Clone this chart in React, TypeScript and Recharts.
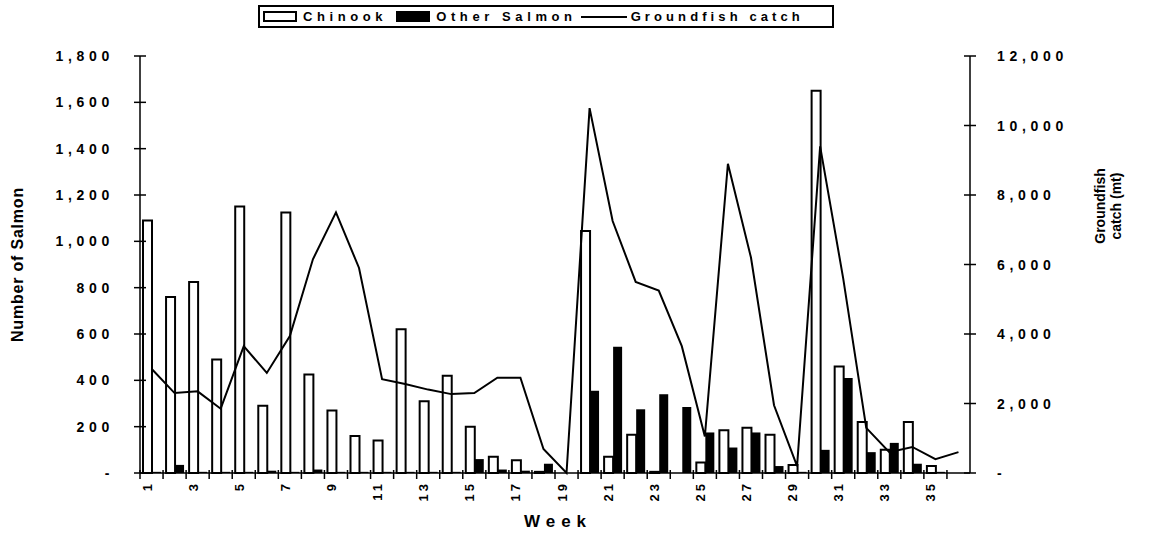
import React from 'react';
import { ComposedChart, Bar, Line, XAxis, YAxis } from 'recharts';

// weekly bycatch (number of fish) and groundfish catch (mt)
const WEEKS = [1, 2, 3, 4, 5, 6, 7, 8, 9, 10, 11, 12, 13, 14, 15, 16, 17, 18, 19, 20, 21, 22, 23, 24, 25, 26, 27, 28, 29, 30, 31, 32, 33, 34, 35, 36];
const CHINOOK = [1090, 760, 825, 490, 1150, 290, 1125, 425, 270, 160, 140, 620, 310, 420, 200, 70, 55, 5, 0, 1045, 70, 165, 5, 0, 45, 185, 195, 165, 35, 1650, 460, 220, 100, 220, 30, 0];
const OTHER_SALMON = [5, 35, 5, 5, 5, 10, 5, 15, 5, 5, 5, 5, 5, 5, 60, 15, 10, 40, 0, 355, 545, 275, 340, 285, 175, 110, 175, 30, 5, 100, 410, 90, 130, 40, 5, 0];
const GROUNDFISH = [3000, 2300, 2350, 1850, 3650, 2880, 3940, 6150, 7500, 5900, 2700, 2560, 2400, 2270, 2300, 2740, 2740, 690, 0, 10500, 7250, 5500, 5250, 3650, 1050, 8900, 6200, 1950, 200, 9400, 5600, 1300, 600, 750, 400, 600];

const SALMON_TICKS = [0, 200, 400, 600, 800, 1000, 1200, 1400, 1600, 1800];
const CATCH_TICKS = [0, 2000, 4000, 6000, 8000, 10000, 12000];

const data = WEEKS.map((week, i) => ({
  week,
  chinook: CHINOOK[i],
  other: OTHER_SALMON[i],
  groundfish: GROUNDFISH[i],
}));

const W = 1156;
const H = 535;
const LEFT_W = 140;
const RIGHT_W = 186;
const HALF_BAND = (W - LEFT_W - RIGHT_W) / WEEKS.length / 2;
const FONT = '"Liberation Sans", Arial, Helvetica, sans-serif';

const fmt = (v: number) => (v === 0 ? '-' : v.toLocaleString('en-US'));

function SalmonTick({ x, y, payload }: any) {
  return (
    <g>
      <line x1={x} x2={x + 12} y1={y} y2={y} stroke="#000" strokeWidth={1.5} />
      <text x={x - 20} y={y} dy={5} textAnchor="end" fontFamily={FONT} fontWeight="bold" fontSize={14} letterSpacing={4.7} fill="#000">
        {fmt(payload.value)}
      </text>
    </g>
  );
}

function CatchTick({ x, y, payload }: any) {
  return (
    <g>
      <line x1={x - 12} x2={x} y1={y} y2={y} stroke="#000" strokeWidth={1.5} />
      <text x={x + 21} y={y} dy={5} textAnchor="start" fontFamily={FONT} fontWeight="bold" fontSize={14} letterSpacing={4.7} fill="#000">
        {fmt(payload.value)}
      </text>
    </g>
  );
}

function WeekTick({ x, y, payload }: any) {
  const axisY = y - 6;
  const edge = x - HALF_BAND;
  return (
    <g>
      <line x1={edge} x2={edge} y1={axisY - 3} y2={axisY + 6} stroke="#000" strokeWidth={1.5} />
      {payload.value % 2 === 1 && (
        <text
          x={x}
          y={axisY + 8}
          transform={`rotate(-90 ${x} ${axisY + 8})`}
          textAnchor="end"
          fontFamily={FONT}
          fontWeight="bold"
          fontSize={13}
          letterSpacing={3}
          fill="#000"
        >
          {payload.value}
        </text>
      )}
    </g>
  );
}

const leftTitle = (props: any) => {
  const vb = props.viewBox;
  const cx = vb.x + 23;
  const cy = vb.y + vb.height / 2;
  return (
    <text x={cx} y={cy} transform={`rotate(-90 ${cx} ${cy})`} textAnchor="middle" fontFamily={FONT} fontWeight="bold" fontSize={16} letterSpacing={0.8} fill="#000">
      Number of Salmon
    </text>
  );
};

const rightTitle = (props: any) => {
  const vb = props.viewBox;
  const cy = vb.y + 150;
  const x1 = vb.x + 135;
  const x2 = vb.x + 151;
  return (
    <g>
      <text x={x1} y={cy} transform={`rotate(-90 ${x1} ${cy})`} textAnchor="middle" fontFamily={FONT} fontWeight="bold" fontSize={14} fill="#000">
        Groundfish
      </text>
      <text x={x2} y={cy} transform={`rotate(-90 ${x2} ${cy})`} textAnchor="middle" fontFamily={FONT} fontWeight="bold" fontSize={14} fill="#000">
        catch (mt)
      </text>
    </g>
  );
};

const weekTitle = (props: any) => {
  const vb = props.viewBox;
  return (
    <text x={vb.x + vb.width / 2 + 3} y={vb.y + 54} textAnchor="middle" fontFamily={FONT} fontWeight="bold" fontSize={17} letterSpacing={6} fill="#000">
      Week
    </text>
  );
};

const legendText: React.CSSProperties = {
  fontFamily: FONT,
  fontWeight: 'bold',
  fontSize: 13,
  letterSpacing: 4.6,
  color: '#000',
  whiteSpace: 'nowrap',
};

function LegendBox() {
  return (
    <div
      style={{
        position: 'absolute',
        left: 258,
        top: 5,
        width: 576,
        height: 23,
        boxSizing: 'border-box',
        border: '2px solid #000',
        background: '#fff',
        display: 'flex',
        alignItems: 'center',
        paddingLeft: 3,
      }}
    >
      <span style={{ width: 34, height: 11, border: '2px solid #000', boxSizing: 'border-box', background: '#fff' }} />
      <span style={{ ...legendText, marginLeft: 6 }}>Chinook</span>
      <span style={{ width: 34, height: 11, background: '#000', marginLeft: 9 }} />
      <span style={{ ...legendText, marginLeft: 6 }}>Other Salmon</span>
      <span style={{ width: 46, height: 2, background: '#000', marginLeft: 4 }} />
      <span style={{ ...legendText, marginLeft: 4, letterSpacing: 4.1 }}>Groundfish catch</span>
    </div>
  );
}

export default function App() {
  return (
    <div style={{ position: 'absolute', left: 0, top: 0, width: W, height: H, background: '#fff' }}>
      <ComposedChart width={W} height={H} data={data} margin={{ top: 56, right: 0, bottom: 0, left: 0 }} barGap={0}>
        <XAxis
          dataKey="week"
          type="category"
          interval={0}
          height={62}
          tickSize={6}
          tickMargin={0}
          tickLine={false}
          axisLine={{ stroke: '#000', strokeWidth: 1.5 }}
          tick={<WeekTick />}
          label={weekTitle}
        />
        <YAxis
          yAxisId="left"
          orientation="left"
          width={LEFT_W}
          domain={[0, 1800]}
          ticks={SALMON_TICKS}
          interval={0}
          tickSize={6}
          tickMargin={0}
          tickLine={false}
          axisLine={{ stroke: '#000', strokeWidth: 1.5 }}
          tick={<SalmonTick />}
          label={leftTitle}
        />
        <YAxis
          yAxisId="right"
          orientation="right"
          width={RIGHT_W}
          domain={[0, 12000]}
          ticks={CATCH_TICKS}
          interval={0}
          tickSize={6}
          tickMargin={0}
          tickLine={false}
          axisLine={{ stroke: '#000', strokeWidth: 1.5 }}
          tick={<CatchTick />}
          label={rightTitle}
        />
        <Bar yAxisId="left" dataKey="chinook" name="Chinook" barSize={9} fill="#fff" stroke="#000" strokeWidth={2} isAnimationActive={false} />
        <Bar yAxisId="left" dataKey="other" name="Other Salmon" barSize={9} fill="#000" isAnimationActive={false} />
        <Line yAxisId="right" dataKey="groundfish" name="Groundfish catch" type="linear" stroke="#000" strokeWidth={2} dot={false} activeDot={false} isAnimationActive={false} />
      </ComposedChart>
      <LegendBox />
    </div>
  );
}
